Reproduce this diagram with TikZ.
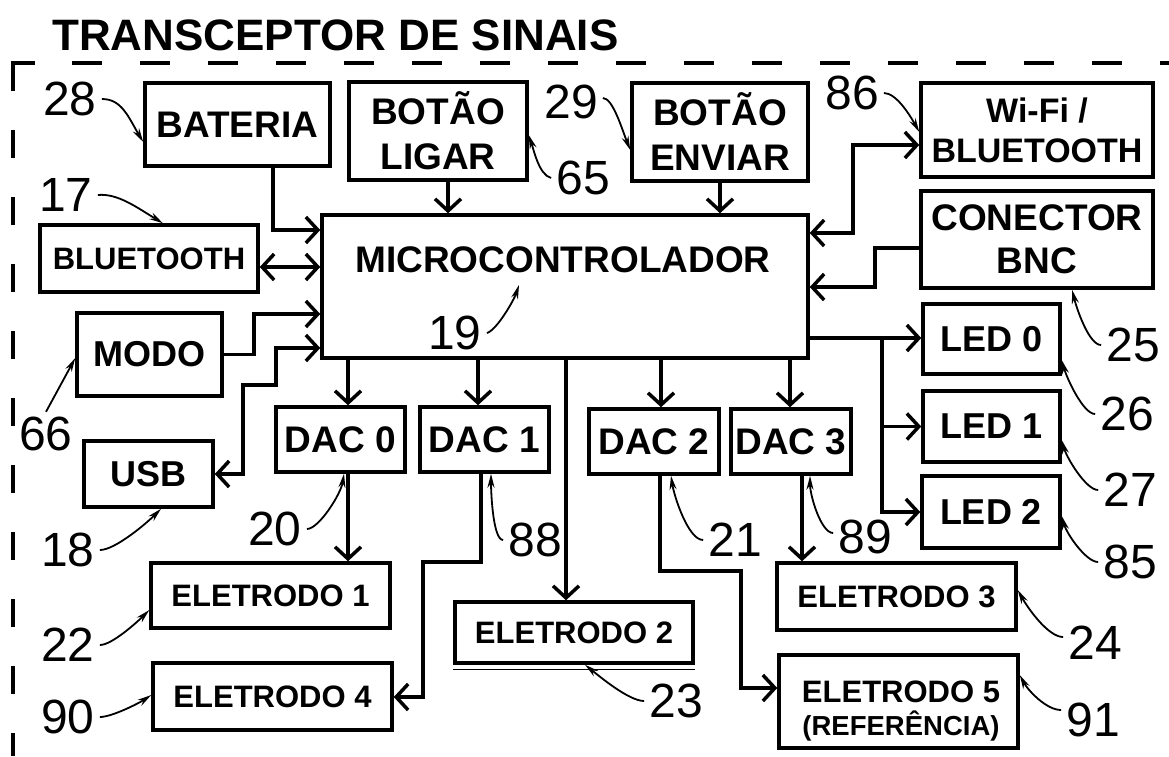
\documentclass[tikz,border=0pt]{standalone}
\usepackage{fontspec}
\setmainfont{Liberation Sans}
\usetikzlibrary{arrows.meta}
\begin{document}
\begin{tikzpicture}[x=1pt,y=-1pt,
  box/.style={draw, line width=3.5pt, inner sep=0pt, align=center, font=\bfseries\fontsize{37}{45}\selectfont},
  conn/.style={line width=3.5pt, >={Straight Barb[length=12pt,width=26pt]}},
  lab/.style={inner sep=5pt, font=\fontsize{48}{48}\selectfont},
  lead/.style={line width=1.8pt, -{Stealth[length=14pt,width=7pt]}},
  frame/.style={line width=3.5pt},
  txt/.style={inner sep=0pt, align=center}
]
\useasboundingbox (0,0) rectangle (1169,756);

% title and dashed frame
\node[anchor=base west, inner sep=0pt, font=\bfseries\fontsize{44}{44}\selectfont] (title) at (52,50) {TRANSCEPTOR DE SINAIS};
\draw[frame] (13,91) -- (13,63) -- (35,63);
\draw[frame, dash pattern=on 30pt off 38pt] (72,63) -- (1169,63);
\draw[frame, dash pattern=on 28pt off 39pt] (13,130) -- (13,756);

% boxes
\node[box, minimum width=185pt, minimum height=83pt] (bat) at (237.5,124.5) {BATERIA};
\node[box, minimum width=178pt, minimum height=98pt] (lig) at (438,131) {BOTÃO\\LIGAR};
\node[box, minimum width=176pt, minimum height=98pt] (env) at (720,132) {BOTÃO\\ENVIAR};
\node[box, minimum width=232pt, minimum height=94pt, font=\bfseries\fontsize{34}{40}\selectfont] (wifi) at (1037,130) {Wi-Fi /\\BLUETOOTH};
\node[box, minimum width=232pt, minimum height=97pt, font=\bfseries\fontsize{37}{43}\selectfont] (bnc) at (1037,239.5) {CONECTOR\\BNC};
\node[box, minimum width=137pt, minimum height=70pt, font=\bfseries\fontsize{36}{36}\selectfont] (led0) at (991.5,339) {LED 0};
\node[box, minimum width=137pt, minimum height=71pt, font=\bfseries\fontsize{36}{36}\selectfont] (led1) at (991.5,426.5) {LED 1};
\node[box, minimum width=138pt, minimum height=72pt, font=\bfseries\fontsize{36}{36}\selectfont] (led2) at (991,512) {LED 2};
\node[box, minimum width=486pt, minimum height=143pt] (mc) at (565,286.5) {};
\node[txt, font=\bfseries\fontsize{37}{37}\selectfont] (mct) at (563,260) {MICROCONTROLADOR};
\node[box, minimum width=218pt, minimum height=67pt, font=\bfseries\fontsize{31}{31}\selectfont] (bt) at (149,258.5) {BLUETOOTH};
\node[box, minimum width=145pt, minimum height=83pt, font=\bfseries\fontsize{36}{36}\selectfont] (modo) at (149.5,354.5) {MODO};
\node[box, minimum width=129pt, minimum height=66pt, font=\bfseries\fontsize{36}{36}\selectfont] (usb) at (148.5,474) {USB};
\node[box, minimum width=129pt, minimum height=65pt] (dac0) at (340.5,439.5) {DAC 0};
\node[box, minimum width=129pt, minimum height=65pt] (dac1) at (484.5,439.5) {DAC 1};
\node[box, minimum width=130pt, minimum height=65pt] (dac2) at (654,441.5) {DAC 2};
\node[box, minimum width=120pt, minimum height=65pt] (dac3) at (791,441.5) {DAC 3};
\node[box, minimum width=239pt, minimum height=65pt, font=\bfseries\fontsize{31}{31}\selectfont] (e1) at (270.5,595.5) {ELETRODO 1};
\node[box, minimum width=239pt, minimum height=67pt, font=\bfseries\fontsize{31}{31}\selectfont] (e4) at (272.5,696.5) {ELETRODO 4};
\node[box, minimum width=238pt, minimum height=61pt, font=\bfseries\fontsize{31}{31}\selectfont] (e2) at (574,632.5) {ELETRODO 2};
\node[box, minimum width=239pt, minimum height=67pt, font=\bfseries\fontsize{31}{31}\selectfont] (e3) at (896.5,596.5) {ELETRODO 3};
\node[box, minimum width=239pt, minimum height=93pt] (e5) at (898.5,701.5) {};
\node[txt, font=\bfseries\fontsize{31}{33}\selectfont] (e5t) at (901,711) {ELETRODO 5\\{\fontsize{27.5}{27.5}\selectfont (REFERÊNCIA)}};
\draw[line width=1pt] ([yshift=-5pt]e2.south west) -- ([yshift=-5pt]e2.south east);

% connectors
\draw[conn, ->] (bat.south -| 273,0) |- (mc.west |- 0,230);
\draw[conn, <->] (bt.east |- 0,267) -- (mc.west |- 0,267);
\draw[conn, ->] (modo.east) -- ++(30,0) |- (mc.west |- 0,314);
\draw[conn, <->] (mc.west |- 0,348) -| (276,385) -| (243,474) -- (usb.east |- 0,474);
\draw[conn, ->] (lig.south -| 448,0) -- (mc.north -| 448,0);
\draw[conn, ->] (env.south) -- (mc.north -| env.south);
\draw[conn, <->] (mc.east |- 0,233) -| (853,145) -- (wifi.west |- 0,145);
\draw[conn, ->] (bnc.west |- 0,248) -| (875,287) -- (mc.east |- 0,287);
\coordinate (br) at (882,338);
\draw[conn, ->] (mc.east |- 0,338) -- (led0.west |- 0,338);
\draw[conn, ->] (br) |- (led1.west);
\draw[conn, ->] (br) |- (led2.west);
\draw[conn, ->] (mc.south -| 348,0) -- (dac0.north -| 348,0);
\draw[conn, ->] (mc.south -| 478,0) -- (dac1.north -| 478,0);
\draw[conn, ->] (mc.south -| 566,0) -- (e2.north -| 566,0);
\draw[conn, ->] (mc.south -| 661,0) -- (dac2.north -| 661,0);
\draw[conn, ->] (mc.south -| 790,0) -- (dac3.north -| 790,0);
\draw[conn, ->] (dac0.south -| 348,0) -- (e1.north -| 348,0);
\draw[conn, ->] (dac1.south -| 481,0) |- (423,562) |- (e4.east |- 0,697);
\draw[conn, ->] (dac2.south -| 660,0) |- (741,571) |- (e5.west |- 0,688);
\draw[conn, ->] (dac3.south -| 802,0) -- (e3.north -| 802,0);

% reference numbers
\node[lab] (l28) at (70,99) {28};
\node[lab] (l17) at (66,195) {17};
\node[lab] (l65) at (583,178) {65};
\node[lab] (l29) at (571,102) {29};
\node[lab] (l86) at (852,93) {86};
\node[lab] (l25) at (1133,345) {25};
\node[lab] (l26) at (1127,414) {26};
\node[lab] (l27) at (1130,490) {27};
\node[lab] (l85) at (1130,562) {85};
\node[lab] (l24) at (1095,643) {24};
\node[lab] (l91) at (1093,720) {91};
\node[lab] (l21) at (735,540) {21};
\node[lab] (l89) at (865,537) {89};
\node[lab] (l88) at (535,540) {88};
\node[lab] (l20) at (275,529) {20};
\node[lab] (l19) at (455,333) {19};
\node[lab] (l66) at (46,434) {66};
\node[lab] (l18) at (68,550) {18};
\node[lab] (l22) at (68,645) {22};
\node[lab] (l90) at (68,717) {90};
\node[lab] (l23) at (676,701) {23};
\coordinate (p19) at (519,285);

% leaders
\draw[lead] (l28.east) .. controls +(20,0) and +(-15,-25) .. (bat.west |- 0,142);
\draw[lead] (l17.east) .. controls +(20,-2) and +(-25,-15) .. (bt.north -| 163,0);
\draw[lead] (l65.west) .. controls +(-12,-3) and +(5,15) .. (lig.east |- 0,135);
\draw[lead] ([yshift=4pt]l29.east) .. controls +(10,0) and +(-8,-20) .. (env.west |- 0,150);
\draw[lead] (l86.east) .. controls +(12,0) and +(-10,-18) .. (wifi.west |- 0,132);
\draw[lead] (l25.west) .. controls +(-12,0) and +(5,20) .. (bnc.south -| 1072,0);
\draw[lead] (l26.west) .. controls +(-12,0) and +(5,18) .. (led0.east |- 0,360);
\draw[lead] (l27.west) .. controls +(-12,0) and +(5,18) .. (led1.east |- 0,440);
\draw[lead] (l85.west) .. controls +(-12,0) and +(5,18) .. (led2.east |- 0,516);
\draw[lead] ([yshift=6pt]l24.west) .. controls +(-15,0) and +(10,18) .. (e3.east |- 0,590);
\draw[lead] ([yshift=10pt]l91.west) .. controls +(-15,0) and +(8,15) .. (e5.east |- 0,675);
\draw[lead] (l21.west) .. controls +(-15,0) and +(3,20) .. (dac2.south -| 671,0);
\draw[lead] ([yshift=4pt]l89.west) .. controls +(-12,0) and +(0,20) .. (dac3.south -| 810,0);
\draw[lead] (l88.west) .. controls +(-10,0) and +(0,20) .. (dac1.south -| 491,0);
\draw[lead] (l20.east) .. controls +(12,0) and +(-3,20) .. (dac0.south -| 344,0);
\draw[lead] (l19.east) .. controls +(10,-3) and +(-5,15) .. (p19);
\draw[lead] (l66.north) -- (modo.west |- 0,358);
\draw[lead] (l18.east) .. controls +(15,0) and +(-15,15) .. (usb.south -| 161,0);
\draw[lead] (l22.east) .. controls +(12,0) and +(-12,12) .. (e1.west |- 0,610);
\draw[lead] (l90.east) .. controls +(12,0) and +(-12,8) .. (e4.west |- 0,695);
\draw[lead] (l23.west) .. controls +(-15,0) and +(15,12) .. (e2.south -| 585,0);
\end{tikzpicture}
\end{document}
